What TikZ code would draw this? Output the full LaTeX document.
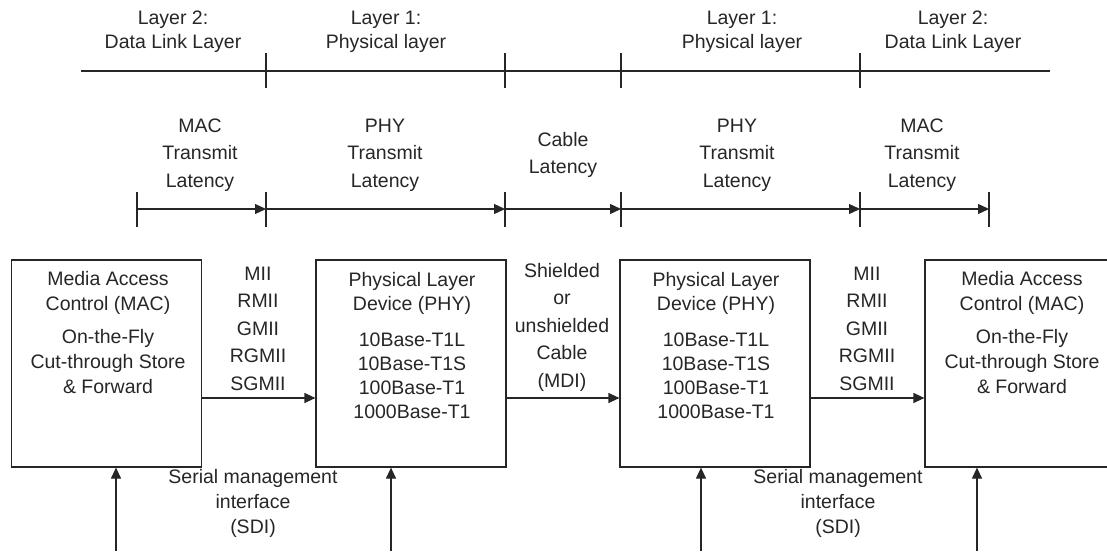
\documentclass[tikz,border=0pt]{standalone}
\usepackage{fontspec}
\setmainfont{Liberation Sans}
\usetikzlibrary{arrows.meta}
\definecolor{ink}{RGB}{38,38,38}
\newcommand\stk[2]{{\fontsize{19.5}{#1}\selectfont\begin{tabular}[t]{@{}c@{}}#2\end{tabular}}}
\tikzset{
  lbl/.style={inner sep=0pt, anchor=base, text=ink},
  boxnode/.style={draw=ink, line width=1.2pt, minimum width=190pt, minimum height=207pt, inner sep=0pt},
  ln/.style={draw=ink, line width=1.2pt},
  arr/.style={ln, -{Triangle[length=11pt,width=10pt]}}
}
\begin{document}
\begin{tikzpicture}[x=1pt,y=-1pt]
\useasboundingbox (0,0) rectangle (1107,551);
\clip (0,0) rectangle (1107,551);

% ---- layer scale ----
\coordinate (L0) at (81,71);
\coordinate (L5) at (1050,71);
\draw[ln] (L0) -- (L5);
\foreach \n/\x in {1/266,2/505,3/621,4/860}{
  \coordinate (t\n) at (\x,71);
  \draw[ln] (\x,53) -- (\x,88);
}
\node[lbl] (lay2a) at (173,25) {\stk{24}{Layer 2:\\Data Link Layer}};
\node[lbl] (lay1a) at (386,25) {\stk{24}{Layer 1:\\Physical layer}};
\node[lbl] (lay1b) at (742,25) {\stk{24}{Layer 1:\\Physical layer}};
\node[lbl] (lay2b) at (953,25) {\stk{24}{Layer 2:\\Data Link Layer}};

% ---- latency scale ----
\foreach \n/\x in {0/137,1/266,2/505,3/621,4/860,5/989}{
  \coordinate (a\n) at (\x,209);
  \draw[ln] (\x,192) -- (\x,227);
}
\foreach \i/\j in {0/1,1/2,2/3,3/4,4/5}{
  \draw[arr] (a\i) -- (a\j);
}
\node[lbl] (lat1) at (200,132) {\stk{27.5}{MAC\\Transmit\\Latency}};
\node[lbl] (lat2) at (385,132) {\stk{27.5}{PHY\\Transmit\\Latency}};
\node[lbl] (lat3) at (563,146) {\stk{27.5}{Cable\\Latency}};
\node[lbl] (lat4) at (737,132) {\stk{27.5}{PHY\\Transmit\\Latency}};
\node[lbl] (lat5) at (922,132) {\stk{27.5}{MAC\\Transmit\\Latency}};

% ---- boxes ----
\node[boxnode] (mac1) at (106.7,363.5) {};
\node[boxnode] (phy1) at (411,363.5) {};
\node[boxnode] (phy2) at (715,363.5) {};
\node[boxnode] (mac2) at (1020,363.5) {};

\node[lbl] (mac1t) at (108,285) {\stk{25}{Media Access\\Control (MAC)}};
\node[lbl] (mac1b) at (108,343) {\stk{25}{On-the-Fly\\Cut-through Store\\\& Forward}};
\node[lbl] (phy1t) at (412,286) {\stk{24.3}{Physical Layer\\Device (PHY)}};
\node[lbl] (phy1b) at (412,346) {\stk{24.3}{10Base-T1L\\10Base-T1S\\100Base-T1\\1000Base-T1}};
\node[lbl] (phy2t) at (716,286) {\stk{24.3}{Physical Layer\\Device (PHY)}};
\node[lbl] (phy2b) at (716,346) {\stk{24.3}{10Base-T1L\\10Base-T1S\\100Base-T1\\1000Base-T1}};
\node[lbl] (mac2t) at (1022,285) {\stk{25}{Media Access\\Control (MAC)}};
\node[lbl] (mac2b) at (1022,343) {\stk{25}{On-the-Fly\\Cut-through Store\\\& Forward}};

% ---- horizontal links ----
\coordinate (yl) at (0,398);
\draw[arr] (mac1.east |- yl) -- (phy1.west |- yl);
\draw[arr] (phy1.east |- yl) -- (phy2.west |- yl);
\draw[arr] (phy2.east |- yl) -- (mac2.west |- yl);
\node[lbl] (if1) at (258,280) {\stk{27.5}{MII\\RMII\\GMII\\RGMII\\SGMII}};
\node[lbl] (cab) at (562,277) {\stk{27.5}{Shielded\\or\\unshielded\\Cable\\(MDI)}};
\node[lbl] (if2) at (867,280) {\stk{27.5}{MII\\RMII\\GMII\\RGMII\\SGMII}};

% ---- management arrows ----
\foreach \n/\x/\b in {1/116/mac1,2/391/phy1,3/701/phy2,4/977/mac2}{
  \coordinate (s\n) at (\x,551);
  \draw[arr] (s\n) -- (\b.south -| s\n);
}
\node[lbl] (sdi1) at (253,483) {\stk{25}{Serial management\\interface\\(SDI)}};
\node[lbl] (sdi2) at (838,483) {\stk{25}{Serial management\\interface\\(SDI)}};
\end{tikzpicture}
\end{document}
